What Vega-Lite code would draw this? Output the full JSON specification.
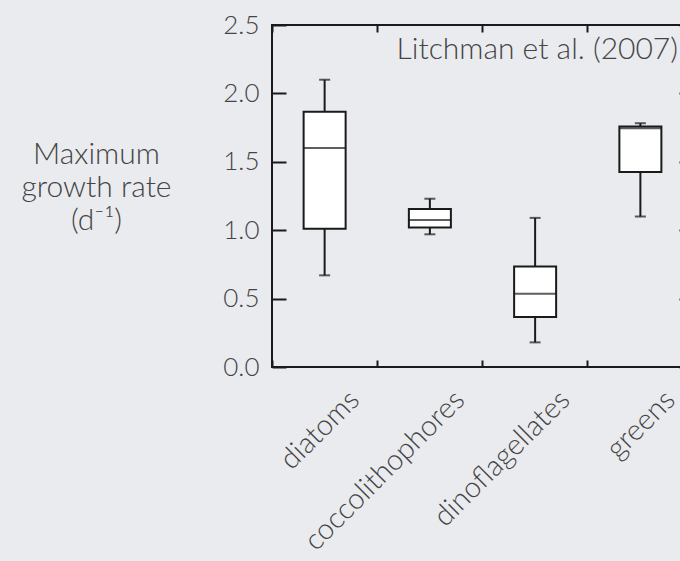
{
  "$schema": "https://vega.github.io/schema/vega-lite/v6.json",
  "width": 421,
  "height": 342,
  "autosize": {"type": "none"},
  "padding": {"left": 272, "top": 25, "right": -13, "bottom": 194},
  "background": "#e9ebef",
  "config": {
    "view": {"stroke": "#1a1a1a", "strokeWidth": 2},
    "font": "Lato",
    "axis": {
      "labelFont": "Lato",
      "labelFontWeight": 300,
      "labelColor": "#444444",
      "titleFont": "Lato",
      "tickColor": "#1a1a1a",
      "tickWidth": 2,
      "domain": false,
      "grid": false
    }
  },
  "title": {
    "text": "Litchman et al. (2007)",
    "anchor": "end",
    "frame": "group",
    "orient": "top",
    "baseline": "alphabetic",
    "dx": -15,
    "dy": 77,
    "offset": 0,
    "fontSize": 30,
    "fontWeight": 300,
    "font": "Lato",
    "color": "#444444"
  },
  "data": {
    "values": [
      {"group": "diatoms", "lower": 0.67, "q1": 1.01, "median": 1.6, "q3": 1.865, "upper": 2.1},
      {"group": "coccolithophores", "lower": 0.97, "q1": 1.02, "median": 1.075, "q3": 1.155, "upper": 1.23},
      {"group": "dinoflagellates", "lower": 0.18, "q1": 0.365, "median": 0.535, "q3": 0.735, "upper": 1.09},
      {"group": "greens", "lower": 1.1, "q1": 1.425, "median": 1.745, "q3": 1.758, "upper": 1.782}
    ]
  },
  "layer": [
    {
      "mark": {"type": "rule", "color": "#1a1a1a", "strokeWidth": 2},
      "encoding": {
        "x": {
          "field": "group", "type": "nominal",
          "sort": ["diatoms", "coccolithophores", "dinoflagellates", "greens"],
          "scale": {"type": "band", "paddingInner": 0, "paddingOuter": 0},
          "axis": {
            "orient": "bottom", "bandPosition": 0, "tickSize": -7,
            "labelAngle": -45, "labelOffset": 20, "labelPadding": 25,
            "labelFontSize": 29, "labelLimit": 500, "title": null
          }
        },
        "y": {
          "field": "lower", "type": "quantitative",
          "scale": {"domain": [0, 2.5], "nice": false},
          "axis": {
            "orient": "left",
            "values": [0, 0.5, 1, 1.5, 2, 2.5],
            "format": ".1f",
            "tickSize": -14,
            "labelPadding": 27,
            "labelFontSize": 26,
            "title": ["Maximum", "growth rate", "(d⁻¹)"],
            "titleAngle": 0,
            "titleAlign": "center",
            "titleBaseline": "alphabetic",
            "titleX": -176,
            "titleY": 138,
            "titleFontSize": 30,
            "titleFontWeight": 300,
            "titleColor": "#444444",
            "titleLineHeight": 33
          }
        },
        "y2": {"field": "upper"}
      }
    },
    {
      "mark": {"type": "bar", "fill": "white", "stroke": "#1a1a1a", "strokeWidth": 2, "size": 42},
      "encoding": {
        "x": {
          "field": "group", "type": "nominal",
          "sort": ["diatoms", "coccolithophores", "dinoflagellates", "greens"],
          "axis": {"orient": "top", "bandPosition": 0, "tickSize": -7, "labels": false, "title": null}
        },
        "y": {
          "field": "q1", "type": "quantitative",
          "axis": {"orient": "right", "values": [0, 0.5, 1, 1.5, 2, 2.5], "tickSize": -14, "labels": false, "title": null}
        },
        "y2": {"field": "q3"}
      }
    },
    {
      "mark": {"type": "tick", "color": "#1a1a1a", "thickness": 2, "size": 42},
      "encoding": {
        "x": {"field": "group", "type": "nominal", "sort": ["diatoms", "coccolithophores", "dinoflagellates", "greens"], "axis": null},
        "y": {"field": "median", "type": "quantitative", "axis": null}
      }
    },
    {
      "mark": {"type": "tick", "color": "#1a1a1a", "thickness": 2, "size": 11},
      "encoding": {
        "x": {"field": "group", "type": "nominal", "sort": ["diatoms", "coccolithophores", "dinoflagellates", "greens"], "axis": null},
        "y": {"field": "lower", "type": "quantitative", "axis": null}
      }
    },
    {
      "mark": {"type": "tick", "color": "#1a1a1a", "thickness": 2, "size": 11},
      "encoding": {
        "x": {"field": "group", "type": "nominal", "sort": ["diatoms", "coccolithophores", "dinoflagellates", "greens"], "axis": null},
        "y": {"field": "upper", "type": "quantitative", "axis": null}
      }
    }
  ],
  "resolve": {"axis": {"x": "independent", "y": "independent"}}
}
